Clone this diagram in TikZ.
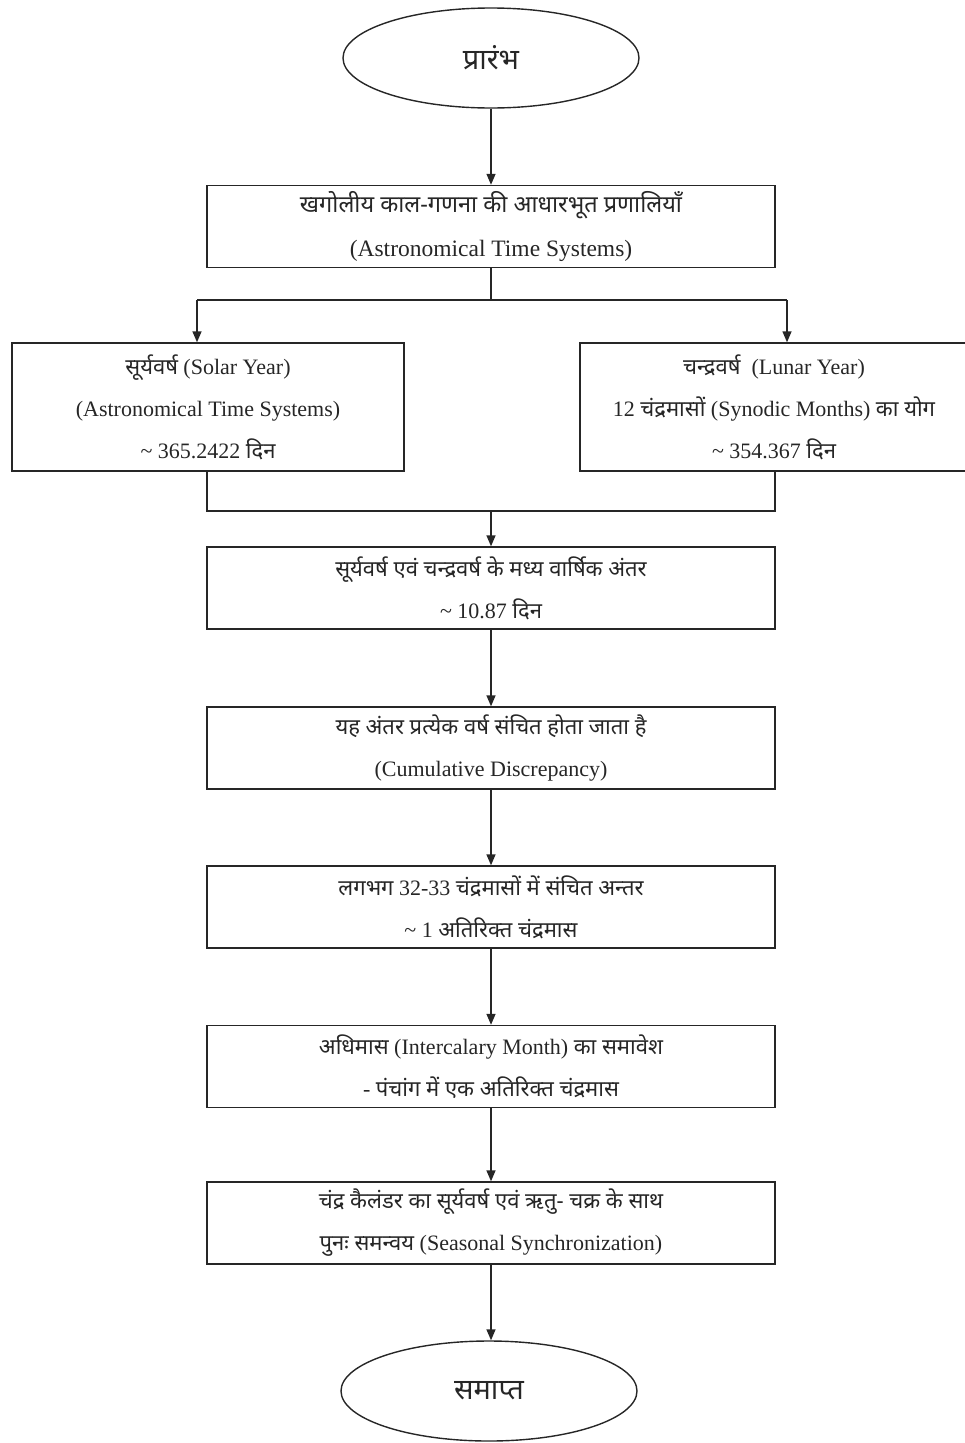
\documentclass[tikz,border=0pt]{standalone}
\usepackage{fontspec}
\setmainfont{Liberation Serif}
\newfontfamily\dev[Script=Devanagari]{Noto Sans}
\usetikzlibrary{shapes.geometric,arrows.meta}
\newcommand{\dv}[1]{{\dev #1}}
\newcommand{\tld}{\textasciitilde}
\begin{document}
\begin{tikzpicture}[x=1pt,y=-1pt,
  line/.style={draw=black!85, line width=1.4pt},
  arr/.style={line, -{Triangle[length=11pt,width=9pt]}},
  boxnode/.style={draw=black!85, line width=1.4pt, rectangle, inner sep=0pt,
    minimum width=568pt, minimum height=82pt, align=center,
    font=\fontsize{22}{42}\selectfont, text=black!85},
  term/.style={draw=black!85, line width=1.4pt, ellipse, inner sep=0pt,
    minimum width=296pt, minimum height=100pt, font=\fontsize{29}{30}\selectfont, text=black!85}]
\useasboundingbox (0,0) rectangle (964,1443);
\node[term] (start) at (491,58) {\dv{प्रारंभ}};
\node[boxnode, font=\fontsize{23.5}{44}\selectfont] (b1) at (491,226.5) {\dv{खगोलीय काल-गणना की आधारभूत प्रणालियाँ}\\(Astronomical Time Systems)};
\node[boxnode, minimum width=392pt, minimum height=128pt] (left) at (208,407) {\dv{सूर्यवर्ष} (Solar Year)\\(Astronomical Time Systems)\\\tld{} 365.2422 \dv{दिन}};
\node[boxnode, minimum width=388pt, minimum height=128pt] (right) at (774,407) {\dv{चन्द्रवर्ष}\ \ (Lunar Year)\\12 \dv{चंद्रमासों} (Synodic Months) \dv{का योग}\\\tld{} 354.367 \dv{दिन}};
\node[boxnode] (b3) at (491,588) {\dv{सूर्यवर्ष एवं चन्द्रवर्ष के मध्य वार्षिक अंतर}\\\tld{} 10.87 \dv{दिन}};
\node[boxnode] (b4) at (491,748) {\dv{यह अंतर प्रत्येक वर्ष संचित होता जाता है}\\(Cumulative Discrepancy)};
\node[boxnode] (b5) at (491,907) {\dv{लगभग} 32-33 \dv{चंद्रमासों में संचित अन्तर}\\\tld{} 1 \dv{अतिरिक्त चंद्रमास}};
\node[boxnode] (b6) at (491,1066.5) {\dv{अधिमास} (Intercalary Month) \dv{का समावेश}\\- \dv{पंचांग में एक अतिरिक्त चंद्रमास}};
\node[boxnode] (b7) at (491,1223) {\dv{चंद्र कैलंडर का सूर्यवर्ष एवं ऋतु- चक्र के साथ}\\\dv{पुनः समन्वय} (Seasonal Synchronization)};
\node[term] (end) at (489,1391) {\dv{समाप्त}};
\coordinate (j1) at (491,300);
\coordinate (jl) at (197,300);
\coordinate (jr) at (787,300);
\coordinate (m1) at (207,511);
\coordinate (m2) at (775,511);
\coordinate (mc) at (491,511);
\draw[arr] (start) -- (b1);
\draw[line] (b1.south) -- (j1);
\draw[line] (jl) -- (jr);
\draw[arr] (jl) -- (jl |- left.north);
\draw[arr] (jr) -- (jr |- right.north);
\draw[line] (m1 |- left.south) -- (m1) -- (m2) -- (m2 |- right.south);
\draw[arr] (mc) -- (b3.north);
\draw[arr] (b3) -- (b4);
\draw[arr] (b4) -- (b5);
\draw[arr] (b5) -- (b6);
\draw[arr] (b6.south) -- (b6.south |- b7.north);
\draw[arr] (b7.south) -- (b7.south |- end.north);
\end{tikzpicture}
\end{document}
